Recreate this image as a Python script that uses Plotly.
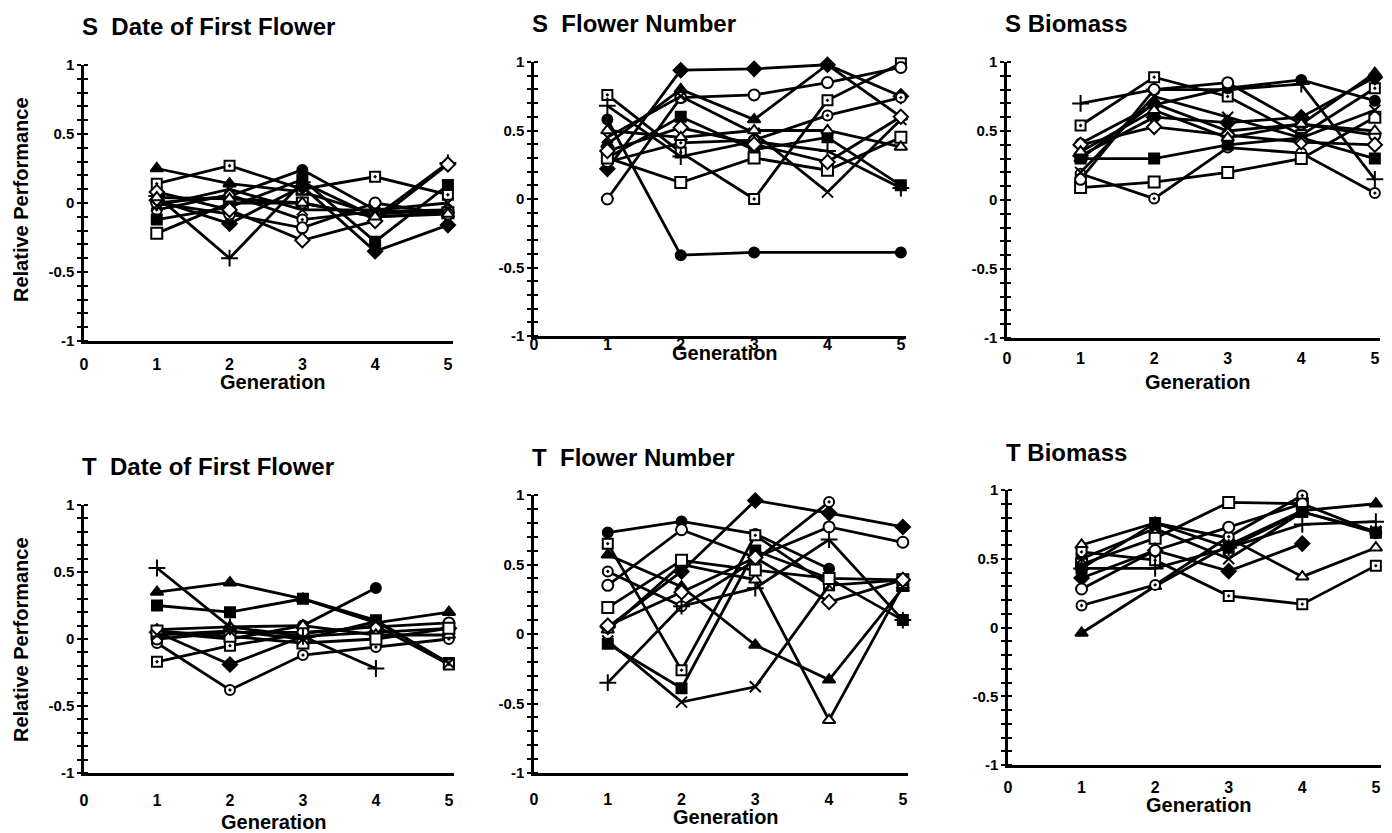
import plotly.graph_objects as go

GEN = [1, 2, 3, 4, 5]
X_TICKS = [0, 1, 2, 3, 4, 5]
Y_TICK_LABELS = {-1: "-1", -0.5: "-0.5", 0: "0", 0.5: "0.5", 1: "1"}

TITLES = ["S  Date of First Flower", "S  Flower Number", "S Biomass",
          "T  Date of First Flower", "T  Flower Number", "T Biomass"]

# marker style keys: fc filled circle, oc open circle, dc dotted circle,
# fs filled square, os open square, ds dotted square, ft filled triangle,
# ot open triangle, fd filled diamond, od open diamond, pl plus, xx cross
s_date = {
    "ft": [0.25, 0.14, 0.08, -0.08, -0.05],
    "ds": [0.14, 0.27, 0.10, 0.19, 0.06],
    "fc": [0.00, 0.05, 0.24, -0.05, -0.08],
    "pl": [0.05, -0.40, 0.15, -0.10, 0.29],
    "fd": [0.02, -0.15, 0.12, -0.35, -0.16],
    "dc": [-0.05, 0.06, -0.12, -0.06, -0.05],
    "os": [-0.22, 0.00, 0.00, -0.10, -0.07],
    "fs": [-0.12, -0.03, 0.17, -0.28, 0.13],
    "oc": [0.00, -0.08, -0.18, 0.00, -0.08],
    "od": [0.08, -0.05, -0.27, -0.13, 0.28],
    "xx": [-0.02, 0.10, -0.05, -0.05, 0.00],
    "ot": [0.04, 0.03, 0.00, -0.10, -0.08],
}

s_flower = {
    "fc": [0.58, -0.41, -0.39, None, -0.39],
    "fd": [0.22, 0.94, 0.95, 0.98, 0.75],
    "ft": [0.40, 0.80, 0.58, 0.98, 0.60],
    "ds": [0.76, 0.34, 0.00, 0.72, 0.99],
    "oc": [0.00, 0.74, 0.76, 0.85, 0.96],
    "dc": [0.27, 0.41, 0.43, 0.61, 0.74],
    "fs": [0.30, 0.60, 0.36, 0.45, 0.10],
    "os": [0.30, 0.12, 0.30, 0.21, 0.45],
    "xx": [0.45, 0.75, 0.48, 0.05, 0.58],
    "pl": [0.68, 0.31, 0.42, 0.35, 0.08],
    "od": [0.35, 0.52, 0.40, 0.27, 0.60],
    "ot": [0.50, 0.45, 0.50, 0.50, 0.38],
}

s_biomass = {
    "pl": [0.70, 0.80, 0.80, 0.84, 0.15],
    "ds": [0.54, 0.89, 0.75, 0.47, 0.81],
    "fc": [0.41, 0.69, 0.81, 0.87, 0.72],
    "fd": [0.32, 0.60, 0.56, 0.60, 0.89],
    "dc": [0.19, 0.01, 0.38, 0.34, 0.05],
    "os": [0.09, 0.13, 0.20, 0.30, 0.60],
    "fs": [0.30, 0.30, 0.40, 0.45, 0.30],
    "oc": [0.15, 0.80, 0.85, 0.55, 0.47],
    "ft": [0.30, 0.70, 0.50, 0.55, 0.92],
    "od": [0.40, 0.53, 0.47, 0.42, 0.40],
    "xx": [0.20, 0.75, 0.60, 0.45, 0.65],
    "ot": [0.35, 0.65, 0.45, 0.55, 0.50],
}

t_date = {
    "ft": [0.35, 0.42, 0.30, 0.12, 0.20],
    "fs": [0.25, 0.20, 0.30, 0.14, -0.18],
    "fc": [0.05, 0.00, 0.10, 0.38, None],
    "dc": [-0.03, -0.38, -0.12, -0.06, 0.00],
    "fd": [0.05, -0.19, 0.02, 0.05, 0.08],
    "ds": [-0.17, -0.05, 0.04, 0.10, -0.19],
    "oc": [0.00, 0.05, 0.05, 0.09, 0.12],
    "ot": [0.07, 0.09, 0.10, 0.03, 0.03],
    "os": [0.06, 0.02, -0.03, 0.00, 0.08],
    "pl": [0.53, 0.09, 0.02, -0.22, None],
    "xx": [0.03, 0.06, 0.00, 0.13, -0.18],
}

t_flower = {
    "fc": [0.73, 0.81, 0.72, 0.47, None],
    "fd": [0.05, 0.45, 0.96, 0.87, 0.77],
    "oc": [0.35, 0.75, 0.55, 0.77, 0.66],
    "dc": [0.45, 0.20, 0.53, 0.95, None],
    "ds": [0.65, -0.26, 0.71, 0.35, 0.39],
    "ft": [0.57, 0.34, -0.08, -0.33, 0.33],
    "fs": [-0.07, -0.39, 0.60, 0.40, 0.10],
    "xx": [-0.05, -0.49, -0.38, 0.35, None],
    "pl": [-0.35, 0.20, 0.33, 0.68, 0.10],
    "ot": [0.03, 0.50, 0.39, -0.62, 0.35],
    "os": [0.19, 0.53, 0.46, 0.40, 0.39],
    "od": [0.06, 0.30, 0.55, 0.23, 0.39],
}

t_biomass = {
    "ft": [-0.04, 0.30, 0.60, 0.85, 0.90],
    "ot": [0.60, 0.76, 0.65, 0.37, 0.58],
    "ds": [0.55, 0.49, 0.23, 0.17, 0.45],
    "os": [0.46, 0.65, 0.91, 0.90, None],
    "dc": [0.16, 0.31, 0.66, 0.96, None],
    "pl": [0.43, 0.43, 0.58, 0.75, 0.77],
    "fd": [0.36, 0.56, 0.41, 0.61, None],
    "oc": [0.28, 0.56, 0.73, 0.90, 0.69],
    "fs": [0.43, 0.76, 0.58, 0.84, 0.69],
    "xx": [0.50, 0.72, 0.50, 0.84, 0.70],
}

PANELS = [s_date, s_flower, s_biomass, t_date, t_flower, t_biomass]

STYLE = {
    "fc": ("circle", "black", 10),
    "oc": ("circle", "white", 11),
    "dc": ("circle-dot", "white", 10),
    "fs": ("square", "black", 10),
    "os": ("square", "white", 11),
    "ds": ("square-dot", "white", 10),
    "ft": ("triangle-up", "black", 11),
    "ot": ("triangle-up", "white", 11),
    "fd": ("diamond", "black", 11),
    "od": ("diamond", "white", 11),
    "pl": ("cross-thin-open", "black", 12),
    "xx": ("x-thin-open", "black", 11),
}

W, H = 1392, 833
OFF = 8  # page body margin offset
# pixel boxes in screenshot coords:
# (x0, x1, y_top, y_bottom, ticklen, ticklabelstandoff, generation y)
BOX = [
    (84, 453, 65, 341, 7, 0, 382),
    (534, 906, 62, 336, 0, -8, 353),
    (1007, 1380, 62, 338, 4, 0, 382),
    (84, 454, 505, 773, 11, 0, 822),
    (534, 908, 495, 773, 10, 0, 817),
    (1008, 1381, 490, 765, 6, 0, 805),
]


def px(x):
    return (x - OFF) / W


def py(y):
    return 1 - (y - OFF) / H


FONT = "Liberation Sans, Arial, Helvetica, sans-serif"
fig = go.Figure()
annotations = []
yvals = [round(-1 + 0.1 * i, 1) for i in range(21)]
ytext = [Y_TICK_LABELS.get(v, "") for v in yvals]

for i, (panel, box) in enumerate(zip(PANELS, BOX)):
    x0, x1, yt, yb, tl, tls, gy = box
    n = i + 1
    xa = "x" if n == 1 else f"x{n}"
    ya = "y" if n == 1 else f"y{n}"
    for key, vals in panel.items():
        sym, col, size = STYLE[key]
        fig.add_trace(go.Scatter(
            x=GEN, y=vals, mode="lines+markers", xaxis=xa, yaxis=ya,
            connectgaps=True, cliponaxis=False, showlegend=False,
            line=dict(color="black", width=2.8),
            marker=dict(symbol=sym, color=col, size=size,
                        line=dict(color="black", width=2)),
        ))
    xkey = "xaxis" if n == 1 else f"xaxis{n}"
    ykey = "yaxis" if n == 1 else f"yaxis{n}"
    fig.layout[xkey] = dict(
        domain=[px(x0), px(x1)], range=[0, 5.07], anchor=ya, automargin=False,
        showline=True, linecolor="black", linewidth=2.5, showgrid=False,
        zeroline=False, tickmode="array", tickvals=X_TICKS,
        ticktext=[str(v) for v in X_TICKS], ticks="outside", ticklen=tl,
        ticklabelstandoff=tls, tickcolor="rgba(0,0,0,0)",
        tickfont=dict(family=FONT, size=16, color="black", weight="bold"),
    )
    fig.layout[ykey] = dict(
        domain=[py(yb), py(yt)], range=[-1, 1], anchor=xa, automargin=False,
        showline=True, linecolor="black", linewidth=2.5, showgrid=False,
        zeroline=False, tickmode="array", tickvals=yvals, ticktext=ytext,
        ticks="outside", ticklen=4, tickwidth=2, tickcolor="black",
        minor=dict(ticks="inside", tick0=0.00001, dtick=0.1, ticklen=4,
                   tickwidth=2, tickcolor="black"),
        tickfont=dict(family=FONT, size=15, color="black", weight="bold"),
    )
    annotations.append(dict(
        text=TITLES[i], xref="paper", yref="paper", x=px(x0 - 4),
        y=py(yt - 38), xanchor="left", yanchor="middle", showarrow=False,
        font=dict(family=FONT, size=24, color="black", weight="bold")))
    annotations.append(dict(
        text="Generation", xref="paper", yref="paper",
        x=px(x0 + 2.6 * (x1 - x0) / 5.07),
        y=py(gy), xanchor="center", yanchor="middle", showarrow=False,
        font=dict(family=FONT, size=20, color="black", weight="bold")))

for yc in (200, 640):
    annotations.append(dict(
        text="Relative Performance", xref="paper", yref="paper", x=px(21),
        y=py(yc), xanchor="center", yanchor="middle", textangle=-90,
        showarrow=False,
        font=dict(family=FONT, size=20, color="black", weight="bold")))

fig.update_layout(
    width=W, height=H, margin=dict(l=0, r=0, t=0, b=0),
    paper_bgcolor="white", plot_bgcolor="white", annotations=annotations,
)
fig.write_html("out.html")
